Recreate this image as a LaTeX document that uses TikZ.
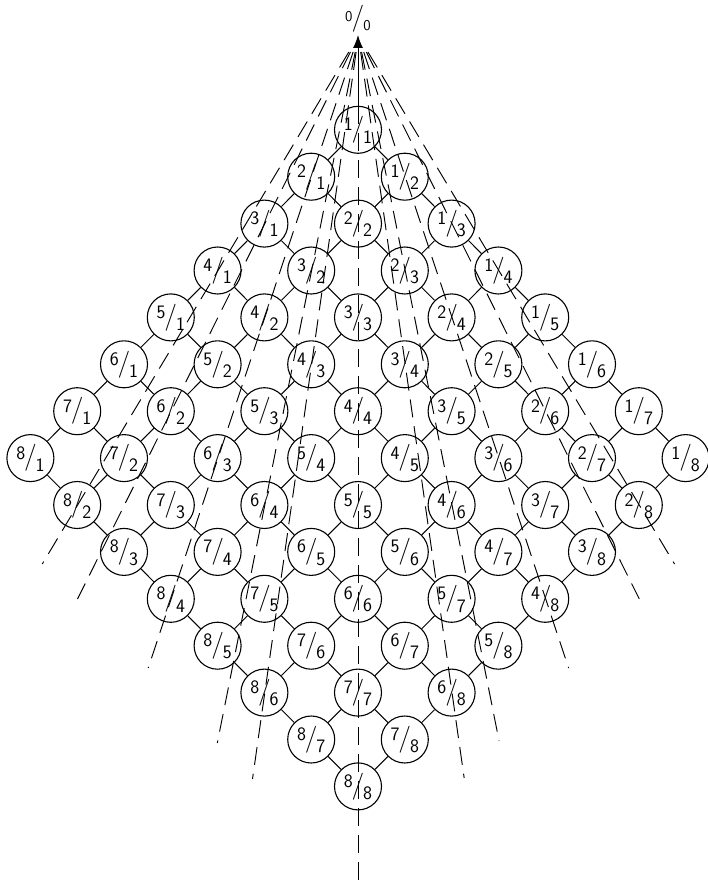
\documentclass[tikz,border=0pt]{standalone}
\usetikzlibrary{arrows.meta,calc}
\tikzset{
  cell/.style={circle,draw,line width=1.1pt,minimum size=47pt,inner sep=0pt,
    font=\sffamily\fontsize{19}{19}\selectfont},
  link/.style={line width=1pt},
  ray/.style={line width=0.95pt,dash pattern=on 18pt off 9pt},
  zerolabel/.style={inner sep=0pt,font=\sffamily\fontsize{15}{15}\selectfont},
}
\newcommand{\fr}[2]{\raisebox{0.3em}{#1}\kern-0.06em{\fontsize{27}{27}\selectfont/}\kern-0.06em\raisebox{-0.34em}{#2}}
\begin{document}
\begin{tikzpicture}[x=1pt,y=-1pt]
\useasboundingbox (0,0) rectangle (708,883);
\coordinate (apex) at (358,35);
\node[zerolabel] (zero) at (358,19) {\fr{0}{0}};
% cells
\foreach \i in {1,...,8}{
  \foreach \j in {1,...,8}{
    \node[cell] (c-\i-\j) at ({358+(\j-\i)*46.8},{36+(\i+\j)*46.9}) {\fr{\i}{\j}};
  }
}
% grid links
\foreach \i in {1,...,8}{
  \foreach \j in {1,...,7}{
    \pgfmathtruncatemacro\k{\j+1}
    \draw[link] (c-\i-\j) -- (c-\i-\k);
    \draw[link] (c-\j-\i) -- (c-\k-\i);
  }
}
% rays from 0/0
\foreach \p/\q/\ye in {1/1/882, 4/1/564, 3/1/599, 2/1/668, 3/2/743, 4/3/779,
                       1/4/564, 1/3/599, 1/2/668, 2/3/741, 3/4/778}{
  \pgfmathsetmacro\sl{(\q-\p)*46.8/((\p+\q)*46.9)}
  \coordinate (rs-\p-\q) at ({358.4+\sl*(52-36)},52);
  \coordinate (re-\p-\q) at ({358.4+\sl*(\ye-36)},\ye);
  \draw[ray] (rs-\p-\q) -- (re-\p-\q);
}
\draw[line width=1pt,-{Latex[length=13pt,width=10pt]}] (c-1-1.north) -- (apex);
\end{tikzpicture}
\end{document}
